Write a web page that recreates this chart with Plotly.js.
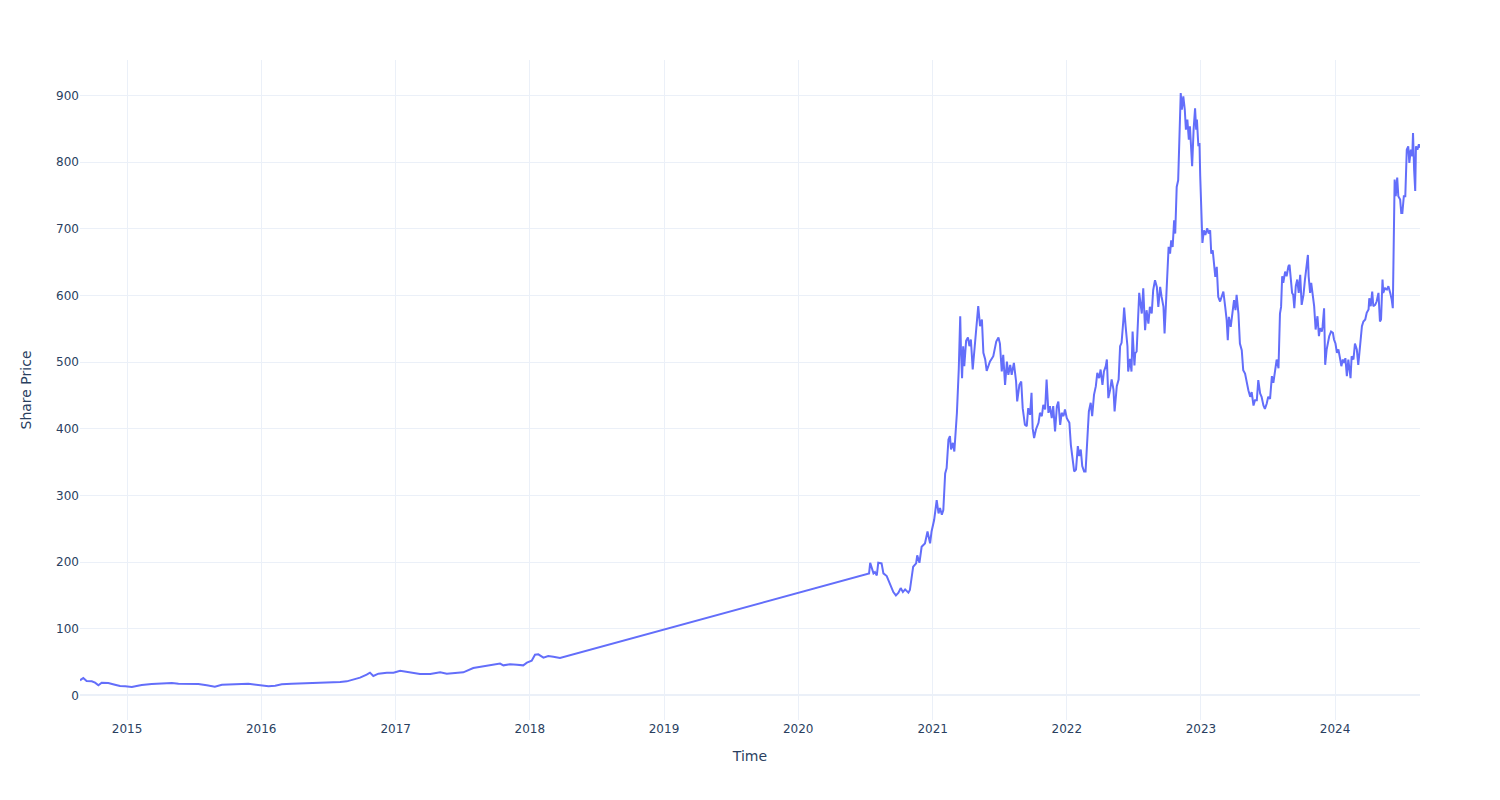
<!DOCTYPE html>
<html>
<head>
<meta charset="utf-8">
<script src="https://cdn.plot.ly/plotly-3.0.1.min.js"></script>
<style>html,body{margin:0;padding:0;background:#fff;}#chart{width:1500px;height:800px;}</style>
</head>
<body>
<div id="chart"></div>
<script>
const dates = [
"2014-08-26","2014-09-04","2014-09-13","2014-09-27","2014-10-06","2014-10-15","2014-10-24","2014-11-11","2014-11-29","2014-12-13","2014-12-27",
"2015-01-14","2015-01-27","2015-02-10","2015-03-09","2015-04-05","2015-05-03","2015-05-21","2015-06-17","2015-07-14","2015-08-06","2015-08-28","2015-09-16","2015-10-13","2015-11-09","2015-11-27","2015-12-15",
"2016-01-03","2016-01-21","2016-02-08","2016-02-26","2016-03-24","2016-04-29","2016-05-27","2016-06-18","2016-07-06","2016-08-03","2016-08-21","2016-09-08","2016-09-26","2016-10-14","2016-10-23","2016-11-01","2016-11-15","2016-12-08","2016-12-26",
"2017-01-13","2017-01-31","2017-02-18","2017-03-08","2017-04-05","2017-05-02","2017-05-20","2017-06-07","2017-07-04","2017-07-31","2017-08-19","2017-09-06","2017-09-24","2017-10-12","2017-10-21","2017-11-08","2017-11-27","2017-12-14","2017-12-24",
"2018-01-06","2018-01-15","2018-01-24","2018-02-07","2018-02-20","2018-03-06","2018-03-24",
"2020-07-12","2020-07-15","2020-07-24","2020-07-28","2020-08-02","2020-08-06","2020-08-15","2020-08-20","2020-08-29","2020-09-07","2020-09-16","2020-09-23","2020-09-30","2020-10-06","2020-10-12","2020-10-18","2020-10-27","2020-10-31","2020-11-05","2020-11-09","2020-11-17","2020-11-20","2020-11-26","2020-12-02","2020-12-11","2020-12-18","2020-12-25","2020-12-29",
"2021-01-05","2021-01-12","2021-01-17","2021-01-21","2021-01-26","2021-01-30","2021-02-04","2021-02-08","2021-02-13","2021-02-17","2021-02-20","2021-02-25","2021-03-01","2021-03-05","2021-03-08","2021-03-13","2021-03-17","2021-03-19","2021-03-22","2021-03-25","2021-03-28","2021-04-02","2021-04-07","2021-04-11","2021-04-15","2021-04-20","2021-04-26","2021-05-01","2021-05-05","2021-05-10","2021-05-15","2021-05-19","2021-05-24","2021-05-28","2021-06-02","2021-06-06","2021-06-15","2021-06-23","2021-06-29","2021-07-03","2021-07-08","2021-07-12","2021-07-17","2021-07-22","2021-07-26","2021-07-31","2021-08-04","2021-08-10","2021-08-16","2021-08-19","2021-08-25","2021-08-30","2021-09-03","2021-09-09","2021-09-14","2021-09-18","2021-09-23","2021-09-27","2021-09-30","2021-10-04","2021-10-09","2021-10-16","2021-10-20","2021-10-25","2021-10-29","2021-11-03","2021-11-07","2021-11-12","2021-11-16","2021-11-21","2021-11-25","2021-11-30","2021-12-05","2021-12-09","2021-12-14","2021-12-18","2021-12-23","2021-12-27",
"2022-01-01","2022-01-08","2022-01-12","2022-01-17","2022-01-21","2022-01-26","2022-01-31","2022-02-04","2022-02-08","2022-02-12","2022-02-17","2022-02-21","2022-02-26","2022-03-02","2022-03-07","2022-03-11","2022-03-16","2022-03-21","2022-03-25","2022-03-30","2022-04-03","2022-04-08","2022-04-12","2022-04-17","2022-04-20","2022-04-24","2022-04-29","2022-05-03","2022-05-08","2022-05-11","2022-05-17","2022-05-22","2022-05-26","2022-05-30","2022-06-04","2022-06-06","2022-06-10","2022-06-15","2022-06-17","2022-06-22","2022-06-26","2022-06-29","2022-07-04","2022-07-06","2022-07-10","2022-07-14","2022-07-17","2022-07-24","2022-07-28","2022-08-02","2022-08-06","2022-08-11","2022-08-15","2022-08-20","2022-08-24","2022-08-29","2022-09-03","2022-09-07","2022-09-12","2022-09-16","2022-09-21","2022-09-24","2022-09-28","2022-10-01","2022-10-05","2022-10-09","2022-10-12","2022-10-16","2022-10-20","2022-10-23","2022-10-27","2022-10-31","2022-11-03","2022-11-07","2022-11-10","2022-11-14","2022-11-18","2022-11-21","2022-11-25","2022-11-29","2022-12-02","2022-12-06","2022-12-08","2022-12-12","2022-12-16","2022-12-19","2022-12-21","2022-12-25","2022-12-28","2022-12-30",
"2023-01-02","2023-01-05","2023-01-09","2023-01-13","2023-01-18","2023-01-22","2023-01-26","2023-01-29","2023-02-02","2023-02-06","2023-02-09","2023-02-13","2023-02-17","2023-02-22","2023-02-27","2023-03-03","2023-03-08","2023-03-12","2023-03-15","2023-03-18","2023-03-23","2023-03-27","2023-04-01","2023-04-05","2023-04-08","2023-04-13","2023-04-17","2023-04-22","2023-04-26","2023-05-01","2023-05-06","2023-05-10","2023-05-15","2023-05-19","2023-05-24","2023-05-28","2023-06-02","2023-06-06","2023-06-11","2023-06-15","2023-06-20","2023-06-24","2023-06-29","2023-07-03","2023-07-08","2023-07-13","2023-07-17","2023-07-22","2023-07-26","2023-07-31","2023-08-04","2023-08-07","2023-08-10","2023-08-13","2023-08-18","2023-08-22","2023-08-27","2023-08-30","2023-09-02","2023-09-06","2023-09-09","2023-09-12","2023-09-16","2023-09-20","2023-09-24","2023-09-28","2023-10-02","2023-10-07","2023-10-11","2023-10-16","2023-10-19","2023-10-21","2023-10-25","2023-10-28","2023-11-01","2023-11-05","2023-11-09","2023-11-14","2023-11-18","2023-11-21","2023-11-26","2023-11-28","2023-12-02","2023-12-05","2023-12-09","2023-12-13","2023-12-16","2023-12-21","2023-12-26","2023-12-29",
"2024-01-02","2024-01-06","2024-01-10","2024-01-15","2024-01-18","2024-01-22","2024-01-25","2024-01-29","2024-02-02","2024-02-06","2024-02-09","2024-02-12","2024-02-15","2024-02-20","2024-02-24","2024-02-29","2024-03-04","2024-03-09","2024-03-14","2024-03-18","2024-03-23","2024-03-27","2024-04-01","2024-04-03","2024-04-07","2024-04-11","2024-04-14","2024-04-19","2024-04-23","2024-04-28","2024-05-02","2024-05-05","2024-05-09","2024-05-11","2024-05-16","2024-05-21","2024-05-25","2024-05-30","2024-06-03","2024-06-06","2024-06-09","2024-06-11","2024-06-14","2024-06-18","2024-06-21","2024-06-26","2024-06-29","2024-07-02","2024-07-06","2024-07-10","2024-07-14","2024-07-18","2024-07-21","2024-07-25","2024-07-29","2024-07-31","2024-08-03","2024-08-06","2024-08-08","2024-08-12","2024-08-16","2024-08-19"
];
const sharePrice = [
22.5,26,21.5,21,19,15,19,18.5,16,14,13.5,
12.5,14,15.5,17,17.5,18.5,17.5,17.5,17,15,13,16,17,17,17.5,16,
14.5,13.5,14.5,16.5,17.5,18,19,19.5,20,20,21,23.5,26.5,31,34,29,32.5,34,34,
37,35.5,34,32,32,34.5,32.5,33.5,34.5,41,42.6,44,45.6,47.6,45,46.6,46,45,49,
52,61,61.5,56.6,59,58,56,
183,199,183,185,180,199,198,183,179,167,155,150,154,161,155,159,154,158,183,193,198,210,199,223,228,246,228,246,
263,293,273,281,271,278,333,341,384,389,369,379,366,394,424,489,569,519,476,524,494,532,537,524,534,489,524,554,584,554,564,514,504,487,494,501,509,531,537,528,486,511,466,501,481,496,481,499,471,441,466,471,431,406,404,431,421,454,401,386,399,409,424,419,436,429,474,424,434,416,434,396,434,441,406,424,419,429,
416,409,376,354,336,339,374,359,369,344,336,336,384,426,439,419,451,464,484,476,489,466,486,494,504,446,459,474,459,426,464,474,524,529,564,582,554,524,486,505,486,546,495,513,516,563,604,573,611,548,578,558,583,573,608,623,613,583,613,598,583,543,583,613,673,663,683,673,713,693,763,773,849,904,879,899,879,849,864,834,854,824,794,849,881,849,864,824,829,779,
734,679,698,691,701,693,698,663,668,643,628,643,598,591,598,606,583,563,533,568,553,573,593,578,601,573,528,518,488,483,468,458,448,455,435,443,443,473,453,448,435,430,438,448,445,479,469,494,504,491,573,583,629,619,636,629,644,646,624,604,601,581,614,624,604,631,586,601,624,644,661,629,604,619,604,584,549,569,539,551,546,554,581,496,519,534,539,546,544,534,
528,514,519,504,494,504,499,506,479,504,484,476,509,504,528,519,496,524,554,561,564,574,579,596,584,606,584,586,591,604,561,564,624,604,611,609,614,604,594,581,664,774,749,777,749,744,724,724,749,749,819,824,799,819,809,844,789,757,824,819,827,822
];
const xTitle = "Time";
const yTitle = "Share Price";

const fontFam = '"DejaVu Sans", verdana, arial, sans-serif';
Plotly.newPlot('chart', [{
  type: 'scatter', mode: 'lines', x: dates, y: sharePrice,
  line: {color: '#636efa', width: 2}, name: ''
}], {
  width: 1500, height: 800,
  margin: {l: 80, r: 80, t: 60, b: 80},
  paper_bgcolor: '#ffffff', plot_bgcolor: '#ffffff',
  font: {family: fontFam, color: '#2a3f5f', size: 12},
  showlegend: false,
  xaxis: {
    type: 'date', title: {text: xTitle, standoff: 16},
    gridcolor: '#EBF0F8', showline: false, ticks: '', zeroline: false, automargin: true
  },
  yaxis: {
    title: {text: yTitle, standoff: 21},
    gridcolor: '#EBF0F8', zerolinecolor: '#EBF0F8', zerolinewidth: 2, showline: false, ticks: '', automargin: true
  }
}, {displayModeBar: false});
</script>
</body>
</html>
